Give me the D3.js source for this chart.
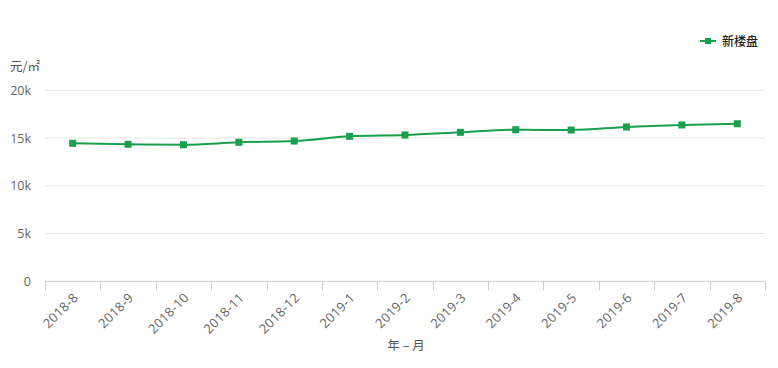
<!DOCTYPE html>
<html><head><meta charset="utf-8">
<script src="https://cdn.jsdelivr.net/npm/d3@7"></script>
<style>
html,body{margin:0;padding:0;background:#fff;}
svg{display:block;font-family:"Open Sans","Noto Sans CJK SC",sans-serif;}
</style></head>
<body><svg id="c" width="778" height="368"></svg>
<script>
const categories = ["2018-8","2018-9","2018-10","2018-11","2018-12","2019-1","2019-2","2019-3","2019-4","2019-5","2019-6","2019-7","2019-8"];
const values = [14450,14350,14300,14560,14690,15180,15320,15600,15870,15840,16160,16370,16500];
const yTicks = [0,5000,10000,15000,20000];
const yTickLabels = ["0","5k","10k","15k","20k"];
const seriesName = "新楼盘";
const yUnit = "元/㎡";
const xTitle = "年 – 月";

const svg = d3.select("#c");
const color = "#18a04f";
const mLeft = 45, mRight = 765, mTop = 90.3, mBottom = 281.3;

const x = d3.scaleBand().domain(categories).range([mLeft, mRight]);
const y = d3.scaleLinear().domain([0, 20000]).range([mBottom, mTop]);

// gridlines
svg.append("g").selectAll("line").data(yTicks.filter(d => d > 0)).join("line")
  .attr("x1", mLeft).attr("x2", mRight)
  .attr("y1", d => y(d)).attr("y2", d => y(d))
  .attr("stroke", "#e6e6e6").attr("stroke-width", 1);

// y labels
svg.append("g").selectAll("text").data(yTicks).join("text")
  .attr("x", 31).attr("y", d => y(d) + 4.5)
  .attr("text-anchor", "end").attr("font-size", 12.5).attr("fill", "#666")
  .text((d, i) => yTickLabels[i]);

// x axis
const xAxis = d3.axisBottom(x).tickSize(0).tickPadding(0);
const gx = svg.append("g").attr("transform", `translate(0,${mBottom})`).call(xAxis);
gx.select(".domain").attr("stroke", "#ccc").attr("d", `M${mLeft},0H${mRight}`);
gx.selectAll(".tick text")
  .attr("font-size", 13).attr("fill", "#666")
  .attr("font-family", "'Open Sans',sans-serif")
  .attr("text-anchor", "end")
  .attr("transform", "translate(3,14) rotate(-45)")
  .attr("dy", "0.35em")
  .attr("letter-spacing", "0.3px");
// boundary ticks
const bounds = categories.map(c => x(c)).concat([mRight]);
svg.append("g").selectAll("line").data(bounds).join("line")
  .attr("x1", d => Math.round(d) + 0.5).attr("x2", d => Math.round(d) + 0.5)
  .attr("y1", mBottom).attr("y2", mBottom + 9)
  .attr("stroke", "#ccc");

// line
const pts = categories.map((c, i) => [x(c) + x.bandwidth() / 2, y(values[i])]);
svg.append("path").attr("d", d3.line().curve(d3.curveMonotoneX)(pts))
  .attr("fill", "none").attr("stroke", color).attr("stroke-width", 2);
svg.append("g").selectAll("rect").data(pts).join("rect")
  .attr("x", d => d[0] - 3.5).attr("y", d => d[1] - 3.5)
  .attr("width", 7).attr("height", 7).attr("fill", color);

// unit label
svg.append("text").attr("x", 10).attr("y", 71).attr("font-size", 12.5).attr("fill", "#555")
  .attr("font-family", "'Noto Sans CJK SC',sans-serif").text(yUnit);

// x title
svg.append("text").attr("x", 406).attr("y", 350).attr("text-anchor", "middle")
  .attr("font-size", 12.5).attr("fill", "#555")
  .attr("font-family", "'Noto Sans CJK SC',sans-serif").text(xTitle);

// legend
const lg = svg.append("g");
lg.append("line").attr("x1", 700).attr("x2", 716).attr("y1", 41).attr("y2", 41)
  .attr("stroke", color).attr("stroke-width", 2);
lg.append("rect").attr("x", 705).attr("y", 38).attr("width", 6).attr("height", 6).attr("fill", color);
lg.append("text").attr("x", 722).attr("y", 45.5).attr("font-size", 12).attr("fill", "#222")
  .attr("font-weight", 500)
  .attr("font-family", "'Noto Sans CJK SC',sans-serif").text(seriesName);
</script></body></html>
